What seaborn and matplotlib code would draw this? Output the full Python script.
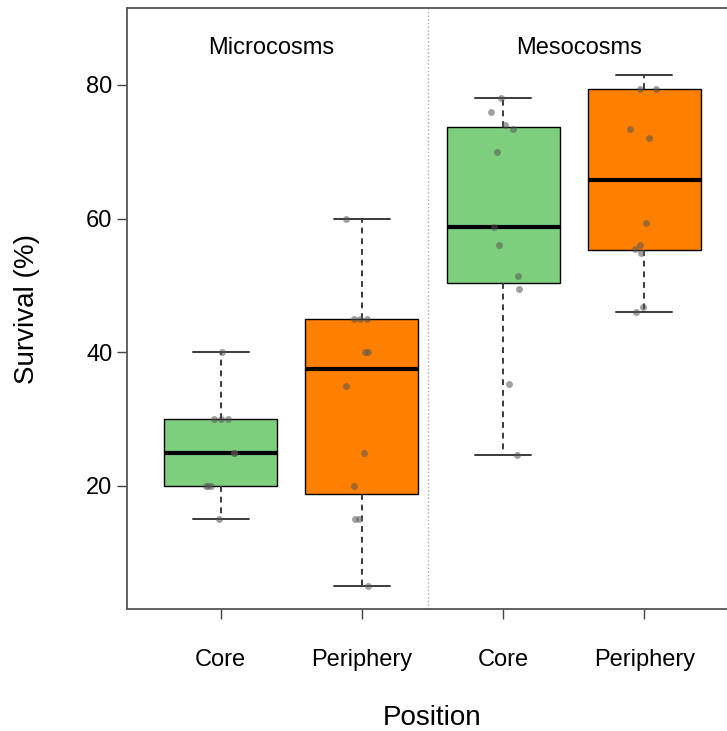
import numpy as np
import pandas as pd
import matplotlib
matplotlib.use("Agg")
import matplotlib.pyplot as plt
import seaborn as sns

# Survival values (%)
micro_core = [40, 30, 30, 30, 25, 25, 20, 20, 20, 15]
micro_periphery = [60, 45, 45, 45, 40, 40, 35, 25, 20, 15, 15, 5]
meso_core = [78, 76, 74, 73.4, 70, 58.8, 56, 51.4, 49.4, 35.3, 24.7]
meso_periphery = [79.4, 79.4, 73.4, 72, 59.4, 56.1, 55.4, 54.8, 46.7, 46.1]
# two top values whose dots are not visible in the figure (whisker reaches them)
meso_periphery_hidden = [81.5, 81.5]

groups = ["Micro Core", "Micro Periphery", "Meso Core", "Meso Periphery"]
tick_labels = ["Core", "Periphery", "Core", "Periphery"]
panel_labels = ["Microcosms", "Mesocosms"]
colors = ["#7dcf7d", "#ff8000", "#7dcf7d", "#ff8000"]


def long_table(series):
    out = pd.DataFrame({
        "group": np.repeat(groups, [len(v) for v in series]),
        "survival": np.concatenate(series),
    })
    out["group"] = pd.Categorical(out["group"], categories=groups, ordered=True)
    return out


points = long_table([micro_core, micro_periphery, meso_core, meso_periphery])
boxes = long_table([micro_core, micro_periphery, meso_core,
                    meso_periphery + meso_periphery_hidden])

sns.set_style("white", rc={"text.color": "black", "axes.labelcolor": "black",
                           "xtick.color": "black", "ytick.color": "black"})
plt.rcParams["font.family"] = ["Liberation Sans", "DejaVu Sans"]

fig = plt.figure(figsize=(7.27, 7.31), dpi=100)
ax = fig.add_axes([127 / 727, 122 / 731, 611 / 727, 601 / 731])

sns.boxplot(
    data=boxes, x="group", y="survival", hue="group", palette=colors, legend=False,
    saturation=1, width=0.8, showfliers=False, linecolor="black", linewidth=1.0,
    whiskerprops=dict(linestyle=(0, (3, 2.5)), color="#3a3a3a", linewidth=1.4),
    capprops=dict(color="#3a3a3a", linewidth=1.4),
    medianprops=dict(color="black", linewidth=3),
    ax=ax,
)

np.random.seed(3)
sns.stripplot(
    data=points, x="group", y="survival", color="#555555", alpha=0.55,
    size=5, jitter=0.12, ax=ax,
)

# separator between microcosms and mesocosms
ax.axvline(1.47, color="#aaaaaa", linestyle=":", linewidth=1)
ax.text(0.36, 85.5, panel_labels[0], ha="center", va="center", fontsize=17)
ax.text(2.54, 85.5, panel_labels[1], ha="center", va="center", fontsize=17)

ax.set_xlim(-0.664, 3.664)
ax.set_ylim(1.6, 91.5)
ax.set_yticks([20, 40, 60, 80])
ax.set_xticks(range(4))
ax.set_xticklabels(tick_labels)
ax.tick_params(axis="both", labelsize=17, length=7, width=1, color="#444444",
               labelcolor="black", direction="out", bottom=True, left=True)
ax.tick_params(axis="x", pad=22)
ax.set_xlabel("Position", fontsize=20, labelpad=24)
ax.set_ylabel("Survival (%)", fontsize=20, labelpad=33)

for side in ["left", "bottom", "top"]:
    ax.spines[side].set_color("#555555")
    ax.spines[side].set_linewidth(1.3)
ax.spines["right"].set_visible(False)

fig.savefig("out.png", dpi=100)
